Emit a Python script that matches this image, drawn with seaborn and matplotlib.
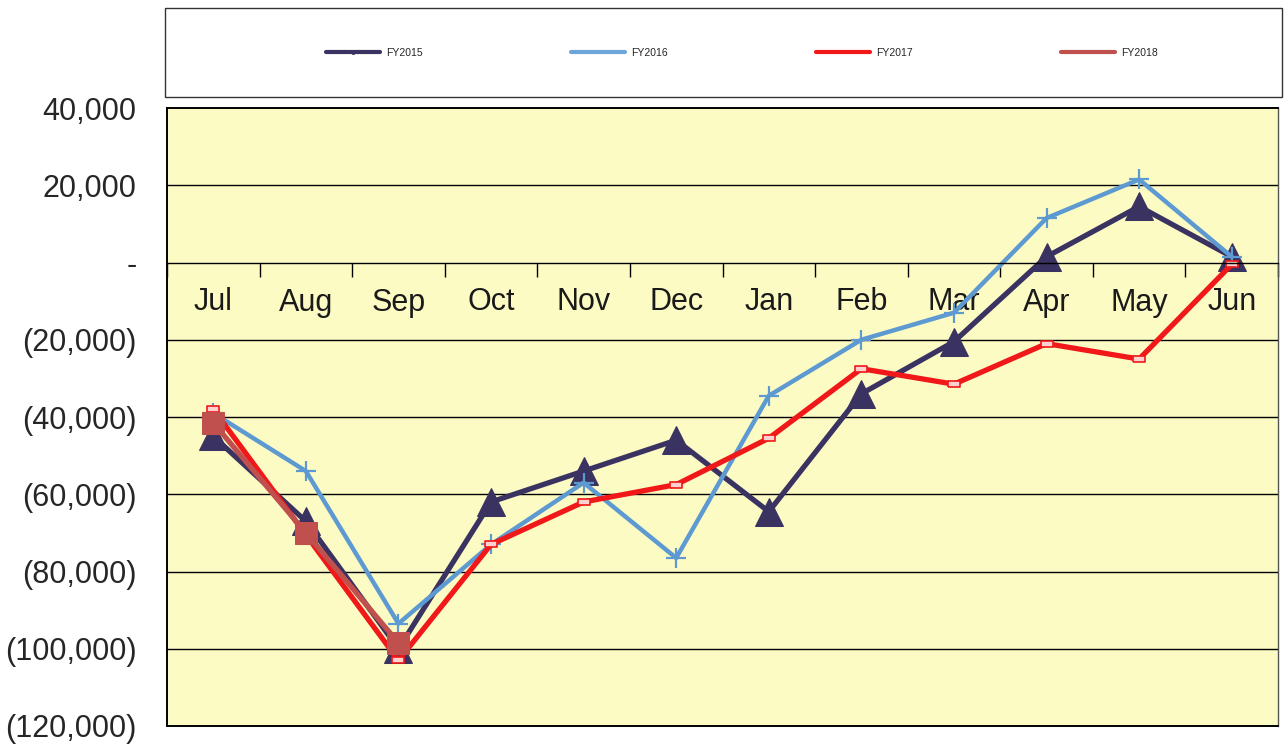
import numpy as np
import pandas as pd
import matplotlib
matplotlib.use("Agg")
import matplotlib.pyplot as plt
from matplotlib.lines import Line2D
from matplotlib.patches import Rectangle
from matplotlib.ticker import FuncFormatter
import seaborn as sns

months = ["Jul", "Aug", "Sep", "Oct", "Nov", "Dec", "Jan", "Feb", "Mar", "Apr", "May", "Jun"]
fy2015 = [-45000, -67000, -100000, -62000, -54000, -46000, -64500, -34000, -20500, 1500, 14500, 1500]
fy2016 = [-39000, -54000, -93500, -73000, -57000, -76500, -34500, -20000, -13000, 11500, 21500, 1500]
fy2017 = [-38000, -70500, -103000, -73000, -62000, -57500, -45500, -27500, -31500, -21000, -25000, -500]
fy2018 = [-41500, -70000, -98500]
y_ticks = [40000, 20000, 0, -20000, -40000, -60000, -80000, -100000, -120000]

sns.set_theme(style="white")
plt.rcParams["font.family"] = ["Liberation Sans", "DejaVu Sans"]

fig = plt.figure(figsize=(12.84, 7.44), dpi=100)
ax = fig.add_axes([167 / 1284, 1 - 726 / 744, (1278 - 167) / 1284, (726 - 108) / 744])
ax.set_facecolor("#FDFBC4")

rect_marker = [(-1, -0.45), (1, -0.45), (1, 0.45), (-1, 0.45), (-1, -0.45)]

series = [
    ("FY2015", fy2015, dict(color="#3A3260", lw=3.8, marker="^", markersize=20, markerfacecolor="#3A3260", markeredgecolor="#3A3260")),
    ("FY2016", fy2016, dict(color="#5E9AD2", lw=3.2, marker="+", markersize=15, markeredgewidth=1.6, markeredgecolor="#5E9AD2")),
    ("FY2017", fy2017, dict(color="#F01818", lw=3.8, marker=rect_marker, markersize=9, markerfacecolor="#FFD0D0", markeredgecolor="#F01818", markeredgewidth=1.2)),
    ("FY2018", fy2018, dict(color="#C0504D", lw=3.8, marker="s", markersize=16, markerfacecolor="#C0504D", markeredgecolor="#C0504D")),
]

for name, vals, style in series:
    df = pd.DataFrame({"x": np.arange(len(vals)), "y": vals})
    sns.lineplot(data=df, x="x", y="y", ax=ax, legend=False, **style)

ax.set_xlim(-0.5, len(months) - 0.5)
ax.set_ylim(min(y_ticks), max(y_ticks))
ax.set_yticks(y_ticks)
for v in y_ticks[1:-1]:
    if v != 0:
        ax.axhline(v, color="black", lw=1.0, zorder=0.5)


def fmt(v, pos):
    if v == 0:
        return "-"
    if v < 0:
        return "({:,.0f})".format(-v)
    return "{:,.0f}".format(v)


ax.yaxis.set_major_formatter(FuncFormatter(fmt))
ax.tick_params(axis="y", left=False, length=0, pad=22, labelsize=22)
ax.set_xlabel("")
ax.set_ylabel("")

# category axis sits on the zero line
ax.spines["bottom"].set_position(("data", 0))
ax.spines["bottom"].set_color("black")
ax.spines["bottom"].set_linewidth(1.0)
ax.set_xticks(np.arange(len(months)), labels=months)
ax.set_xticks(np.arange(-0.5, len(months), 1.0), minor=True)
ax.tick_params(axis="x", which="major", bottom=True, length=0, pad=18, labelsize=22, labelcolor="#1a1a1a")
ax.tick_params(axis="x", which="minor", bottom=True, length=10, width=1.0, direction="out", color="black")
# plot-area bottom border
ax.axhline(min(y_ticks), color="black", lw=1.4, clip_on=False, zorder=3)

for s in ["left", "top"]:
    ax.spines[s].set_color("black")
    ax.spines[s].set_linewidth(1.4)
ax.spines["right"].set_color("#555555")
ax.spines["right"].set_linewidth(1.0)

# legend box
fig.patches.append(Rectangle((165 / 1284, 1 - 97 / 744), (1282 - 165) / 1284, (97 - 8) / 744,
                             transform=fig.transFigure, fill=False, edgecolor="#333333", lw=1.0))
handles = [
    Line2D([], [], color="#3A3260", lw=3, marker="o", markersize=2.5),
    Line2D([], [], color="#6FA6DA", lw=3),
    Line2D([], [], color="#F01818", lw=3),
    Line2D([], [], color="#C0504D", lw=3),
]
fig.legend(handles, [s[0] for s in series], loc="center", bbox_to_anchor=(742 / 1284, 1 - 53 / 744),
           ncol=4, frameon=False, fontsize=7.5, handlelength=5.2, columnspacing=14.2, handletextpad=0.6)

fig.savefig("out.png", dpi=100)
